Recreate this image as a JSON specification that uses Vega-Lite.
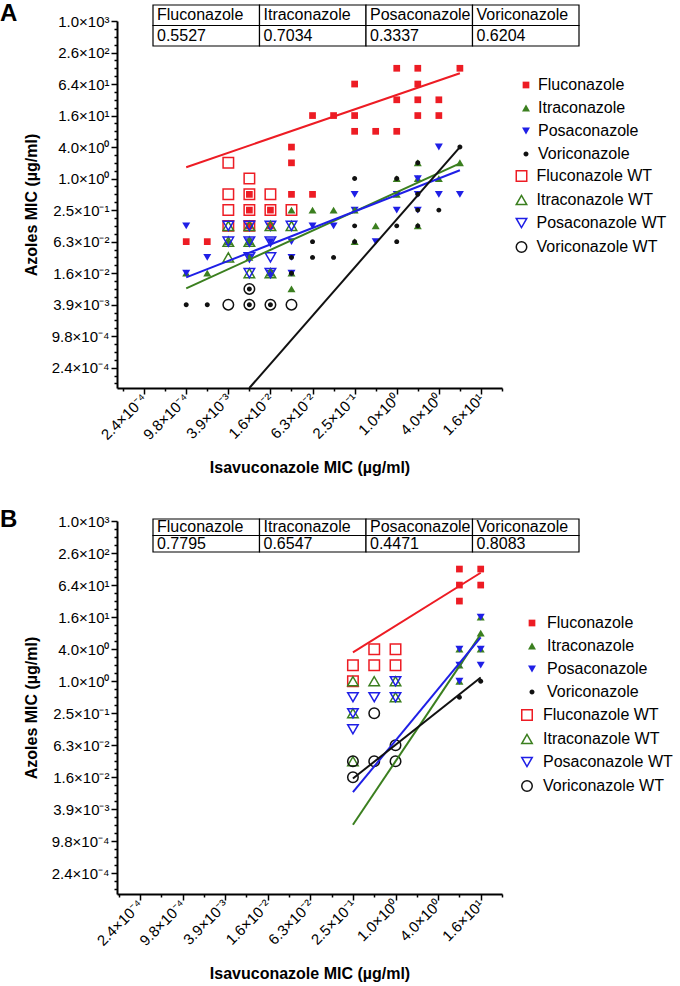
{
  "$schema": "https://vega.github.io/schema/vega-lite/v6.json",
  "padding": {"top": 2, "left": 0, "right": 0, "bottom": 0},
  "background": "white",
  "spacing": 32,
  "datasets": {
    "ptsA": [
      {"iso":0.0009765625,"mic":0.125,"series":"Posaconazole"},
      {"iso":0.0009765625,"mic":0.0625,"series":"Fluconazole"},
      {"iso":0.0009765625,"mic":0.015625,"series":"Itraconazole"},
      {"iso":0.0009765625,"mic":0.015625,"series":"Posaconazole"},
      {"iso":0.0009765625,"mic":0.00390625,"series":"Voriconazole"},
      {"iso":0.001953125,"mic":0.0625,"series":"Fluconazole"},
      {"iso":0.001953125,"mic":0.03125,"series":"Posaconazole"},
      {"iso":0.001953125,"mic":0.015625,"series":"Itraconazole"},
      {"iso":0.001953125,"mic":0.00390625,"series":"Voriconazole"},
      {"iso":0.00390625,"mic":2,"series":"Fluconazole WT"},
      {"iso":0.00390625,"mic":0.5,"series":"Fluconazole WT"},
      {"iso":0.00390625,"mic":0.25,"series":"Fluconazole WT"},
      {"iso":0.00390625,"mic":0.125,"series":"Fluconazole WT"},
      {"iso":0.00390625,"mic":0.125,"series":"Itraconazole WT"},
      {"iso":0.00390625,"mic":0.125,"series":"Posaconazole WT"},
      {"iso":0.00390625,"mic":0.0625,"series":"Itraconazole"},
      {"iso":0.00390625,"mic":0.0625,"series":"Itraconazole WT"},
      {"iso":0.00390625,"mic":0.0625,"series":"Posaconazole WT"},
      {"iso":0.00390625,"mic":0.03125,"series":"Itraconazole WT"},
      {"iso":0.00390625,"mic":0.00390625,"series":"Voriconazole WT"},
      {"iso":0.0078125,"mic":1,"series":"Fluconazole WT"},
      {"iso":0.0078125,"mic":0.5,"series":"Fluconazole WT"},
      {"iso":0.0078125,"mic":0.25,"series":"Fluconazole WT"},
      {"iso":0.0078125,"mic":0.125,"series":"Fluconazole WT"},
      {"iso":0.0078125,"mic":0.5,"series":"Fluconazole"},
      {"iso":0.0078125,"mic":0.25,"series":"Fluconazole"},
      {"iso":0.0078125,"mic":0.125,"series":"Fluconazole"},
      {"iso":0.0078125,"mic":0.125,"series":"Itraconazole WT"},
      {"iso":0.0078125,"mic":0.125,"series":"Posaconazole WT"},
      {"iso":0.0078125,"mic":0.0625,"series":"Posaconazole"},
      {"iso":0.0078125,"mic":0.0625,"series":"Itraconazole"},
      {"iso":0.0078125,"mic":0.0625,"series":"Itraconazole WT"},
      {"iso":0.0078125,"mic":0.0625,"series":"Posaconazole WT"},
      {"iso":0.0078125,"mic":0.03125,"series":"Posaconazole"},
      {"iso":0.0078125,"mic":0.03125,"series":"Itraconazole"},
      {"iso":0.0078125,"mic":0.03125,"series":"Posaconazole WT"},
      {"iso":0.0078125,"mic":0.015625,"series":"Itraconazole WT"},
      {"iso":0.0078125,"mic":0.015625,"series":"Posaconazole WT"},
      {"iso":0.0078125,"mic":0.0078125,"series":"Voriconazole"},
      {"iso":0.0078125,"mic":0.0078125,"series":"Voriconazole WT"},
      {"iso":0.0078125,"mic":0.00390625,"series":"Voriconazole"},
      {"iso":0.0078125,"mic":0.00390625,"series":"Voriconazole WT"},
      {"iso":0.015625,"mic":0.5,"series":"Fluconazole WT"},
      {"iso":0.015625,"mic":0.25,"series":"Fluconazole WT"},
      {"iso":0.015625,"mic":0.25,"series":"Fluconazole"},
      {"iso":0.015625,"mic":0.125,"series":"Fluconazole"},
      {"iso":0.015625,"mic":0.125,"series":"Posaconazole WT"},
      {"iso":0.015625,"mic":0.125,"series":"Itraconazole WT"},
      {"iso":0.015625,"mic":0.0625,"series":"Posaconazole"},
      {"iso":0.015625,"mic":0.0625,"series":"Posaconazole WT"},
      {"iso":0.015625,"mic":0.03125,"series":"Posaconazole WT"},
      {"iso":0.015625,"mic":0.015625,"series":"Itraconazole"},
      {"iso":0.015625,"mic":0.015625,"series":"Posaconazole"},
      {"iso":0.015625,"mic":0.015625,"series":"Itraconazole WT"},
      {"iso":0.015625,"mic":0.015625,"series":"Posaconazole WT"},
      {"iso":0.015625,"mic":0.00390625,"series":"Voriconazole"},
      {"iso":0.015625,"mic":0.00390625,"series":"Voriconazole WT"},
      {"iso":0.03125,"mic":4,"series":"Fluconazole"},
      {"iso":0.03125,"mic":2,"series":"Fluconazole"},
      {"iso":0.03125,"mic":0.5,"series":"Fluconazole"},
      {"iso":0.03125,"mic":0.25,"series":"Fluconazole WT"},
      {"iso":0.03125,"mic":0.25,"series":"Itraconazole"},
      {"iso":0.03125,"mic":0.125,"series":"Itraconazole WT"},
      {"iso":0.03125,"mic":0.125,"series":"Posaconazole WT"},
      {"iso":0.03125,"mic":0.0625,"series":"Posaconazole"},
      {"iso":0.03125,"mic":0.03125,"series":"Posaconazole"},
      {"iso":0.03125,"mic":0.03125,"series":"Voriconazole"},
      {"iso":0.03125,"mic":0.015625,"series":"Itraconazole"},
      {"iso":0.03125,"mic":0.015625,"series":"Posaconazole"},
      {"iso":0.03125,"mic":0.015625,"series":"Voriconazole"},
      {"iso":0.03125,"mic":0.0078125,"series":"Itraconazole"},
      {"iso":0.03125,"mic":0.00390625,"series":"Voriconazole WT"},
      {"iso":0.0625,"mic":16,"series":"Fluconazole"},
      {"iso":0.0625,"mic":0.5,"series":"Fluconazole"},
      {"iso":0.0625,"mic":0.25,"series":"Itraconazole"},
      {"iso":0.0625,"mic":0.125,"series":"Posaconazole"},
      {"iso":0.0625,"mic":0.0625,"series":"Voriconazole"},
      {"iso":0.0625,"mic":0.03125,"series":"Voriconazole"},
      {"iso":0.125,"mic":16,"series":"Fluconazole"},
      {"iso":0.125,"mic":0.25,"series":"Itraconazole"},
      {"iso":0.125,"mic":0.125,"series":"Posaconazole"},
      {"iso":0.125,"mic":0.03125,"series":"Voriconazole"},
      {"iso":0.25,"mic":64,"series":"Fluconazole"},
      {"iso":0.25,"mic":16,"series":"Fluconazole"},
      {"iso":0.25,"mic":8,"series":"Fluconazole"},
      {"iso":0.25,"mic":1,"series":"Voriconazole"},
      {"iso":0.25,"mic":0.5,"series":"Posaconazole"},
      {"iso":0.25,"mic":0.25,"series":"Posaconazole"},
      {"iso":0.25,"mic":0.25,"series":"Itraconazole"},
      {"iso":0.25,"mic":0.125,"series":"Voriconazole"},
      {"iso":0.25,"mic":0.0625,"series":"Itraconazole"},
      {"iso":0.25,"mic":0.0625,"series":"Voriconazole"},
      {"iso":0.5,"mic":8,"series":"Fluconazole"},
      {"iso":0.5,"mic":0.125,"series":"Itraconazole"},
      {"iso":0.5,"mic":0.0625,"series":"Posaconazole"},
      {"iso":1,"mic":128,"series":"Fluconazole"},
      {"iso":1,"mic":32,"series":"Fluconazole"},
      {"iso":1,"mic":8,"series":"Fluconazole"},
      {"iso":1,"mic":1,"series":"Itraconazole"},
      {"iso":1,"mic":1,"series":"Voriconazole"},
      {"iso":1,"mic":0.5,"series":"Posaconazole"},
      {"iso":1,"mic":0.5,"series":"Itraconazole"},
      {"iso":1,"mic":0.25,"series":"Posaconazole"},
      {"iso":1,"mic":0.125,"series":"Voriconazole"},
      {"iso":1,"mic":0.0625,"series":"Voriconazole"},
      {"iso":2,"mic":128,"series":"Fluconazole"},
      {"iso":2,"mic":64,"series":"Fluconazole"},
      {"iso":2,"mic":32,"series":"Fluconazole"},
      {"iso":2,"mic":16,"series":"Fluconazole"},
      {"iso":2,"mic":2,"series":"Itraconazole"},
      {"iso":2,"mic":2,"series":"Voriconazole"},
      {"iso":2,"mic":1,"series":"Itraconazole"},
      {"iso":2,"mic":1,"series":"Posaconazole"},
      {"iso":2,"mic":0.5,"series":"Posaconazole"},
      {"iso":2,"mic":0.5,"series":"Voriconazole"},
      {"iso":2,"mic":0.25,"series":"Posaconazole"},
      {"iso":2,"mic":0.25,"series":"Voriconazole"},
      {"iso":2,"mic":0.125,"series":"Itraconazole"},
      {"iso":2,"mic":0.125,"series":"Voriconazole"},
      {"iso":4,"mic":32,"series":"Fluconazole"},
      {"iso":4,"mic":16,"series":"Fluconazole"},
      {"iso":4,"mic":4,"series":"Posaconazole"},
      {"iso":4,"mic":1,"series":"Itraconazole"},
      {"iso":4,"mic":0.5,"series":"Posaconazole"},
      {"iso":4,"mic":0.25,"series":"Voriconazole"},
      {"iso":8,"mic":128,"series":"Fluconazole"},
      {"iso":8,"mic":4,"series":"Voriconazole"},
      {"iso":8,"mic":2,"series":"Itraconazole"},
      {"iso":8,"mic":0.5,"series":"Posaconazole"}
    ],
    "fitA": [
      {"iso":0.0009765625,"mic":1.65,"series":"Fluconazole"},
      {"iso":8,"mic":103,"series":"Fluconazole"},
      {"iso":0.0009765625,"mic":0.008,"series":"Itraconazole"},
      {"iso":8,"mic":1.96,"series":"Itraconazole"},
      {"iso":0.0009765625,"mic":0.013,"series":"Posaconazole"},
      {"iso":8,"mic":1.44,"series":"Posaconazole"},
      {"iso":0.0078,"mic":0.0001,"series":"Voriconazole"},
      {"iso":8,"mic":4,"series":"Voriconazole"}
    ],
    "ptsB": [
      {"iso":0.25,"mic":2,"series":"Fluconazole WT"},
      {"iso":0.25,"mic":1,"series":"Fluconazole WT"},
      {"iso":0.25,"mic":1,"series":"Itraconazole WT"},
      {"iso":0.25,"mic":0.25,"series":"Itraconazole WT"},
      {"iso":0.25,"mic":0.03125,"series":"Itraconazole WT"},
      {"iso":0.25,"mic":0.5,"series":"Posaconazole WT"},
      {"iso":0.25,"mic":0.25,"series":"Posaconazole WT"},
      {"iso":0.25,"mic":0.125,"series":"Posaconazole WT"},
      {"iso":0.25,"mic":0.03125,"series":"Voriconazole WT"},
      {"iso":0.25,"mic":0.015625,"series":"Voriconazole WT"},
      {"iso":0.5,"mic":4,"series":"Fluconazole WT"},
      {"iso":0.5,"mic":2,"series":"Fluconazole WT"},
      {"iso":0.5,"mic":1,"series":"Itraconazole WT"},
      {"iso":0.5,"mic":0.5,"series":"Posaconazole WT"},
      {"iso":0.5,"mic":0.25,"series":"Voriconazole WT"},
      {"iso":0.5,"mic":0.03125,"series":"Voriconazole WT"},
      {"iso":1,"mic":4,"series":"Fluconazole WT"},
      {"iso":1,"mic":2,"series":"Fluconazole WT"},
      {"iso":1,"mic":1,"series":"Itraconazole WT"},
      {"iso":1,"mic":0.5,"series":"Itraconazole WT"},
      {"iso":1,"mic":1,"series":"Posaconazole WT"},
      {"iso":1,"mic":0.5,"series":"Posaconazole WT"},
      {"iso":1,"mic":0.0625,"series":"Voriconazole WT"},
      {"iso":1,"mic":0.03125,"series":"Voriconazole WT"},
      {"iso":8,"mic":128,"series":"Fluconazole"},
      {"iso":8,"mic":64,"series":"Fluconazole"},
      {"iso":8,"mic":32,"series":"Fluconazole"},
      {"iso":8,"mic":4,"series":"Itraconazole"},
      {"iso":8,"mic":2,"series":"Itraconazole"},
      {"iso":8,"mic":1,"series":"Itraconazole"},
      {"iso":8,"mic":4,"series":"Posaconazole"},
      {"iso":8,"mic":2,"series":"Posaconazole"},
      {"iso":8,"mic":1,"series":"Posaconazole"},
      {"iso":8,"mic":0.5,"series":"Voriconazole"},
      {"iso":16,"mic":128,"series":"Fluconazole"},
      {"iso":16,"mic":64,"series":"Fluconazole"},
      {"iso":16,"mic":16,"series":"Itraconazole"},
      {"iso":16,"mic":8,"series":"Itraconazole"},
      {"iso":16,"mic":4,"series":"Itraconazole"},
      {"iso":16,"mic":16,"series":"Posaconazole"},
      {"iso":16,"mic":4,"series":"Posaconazole"},
      {"iso":16,"mic":2,"series":"Posaconazole"},
      {"iso":16,"mic":1,"series":"Voriconazole"}
    ],
    "fitB": [
      {"iso":0.25,"mic":3.48,"series":"Fluconazole"},
      {"iso":16,"mic":109,"series":"Fluconazole"},
      {"iso":0.25,"mic":0.002,"series":"Itraconazole"},
      {"iso":16,"mic":7.57,"series":"Itraconazole"},
      {"iso":0.25,"mic":0.0082,"series":"Posaconazole"},
      {"iso":16,"mic":6.63,"series":"Posaconazole"},
      {"iso":0.25,"mic":0.0148,"series":"Voriconazole"},
      {"iso":16,"mic":1.17,"series":"Voriconazole"}
    ],
    "tabA": [
      {"col":"Fluconazole","row":"head","txt":"Fluconazole"},
      {"col":"Itraconazole","row":"head","txt":"Itraconazole"},
      {"col":"Posaconazole","row":"head","txt":"Posaconazole"},
      {"col":"Voriconazole","row":"head","txt":"Voriconazole"},
      {"col":"Fluconazole","row":"val","txt":"0.5527"},
      {"col":"Itraconazole","row":"val","txt":"0.7034"},
      {"col":"Posaconazole","row":"val","txt":"0.3337"},
      {"col":"Voriconazole","row":"val","txt":"0.6204"}
    ],
    "tabB": [
      {"col":"Fluconazole","row":"head","txt":"Fluconazole"},
      {"col":"Itraconazole","row":"head","txt":"Itraconazole"},
      {"col":"Posaconazole","row":"head","txt":"Posaconazole"},
      {"col":"Voriconazole","row":"head","txt":"Voriconazole"},
      {"col":"Fluconazole","row":"val","txt":"0.7795"},
      {"col":"Itraconazole","row":"val","txt":"0.6547"},
      {"col":"Posaconazole","row":"val","txt":"0.4471"},
      {"col":"Voriconazole","row":"val","txt":"0.8083"}
    ]
  },
  "vconcat": [
    {
      "width": 385,
      "height": 367,
      "title": {"text": "A", "anchor": "start", "frame": "group", "dx": -117, "offset": -22, "fontSize": 24, "fontWeight": "bold", "color": "black"},
      "layer": [
        {
          "encoding": {
            "x": {"field": "iso", "type": "quantitative",
              "scale": {"type": "log", "domain": [0.0001, 32], "nice": false},
              "axis": {"title": "Isavuconazole MIC (µg/ml)",
                "values": [0.0001220703125, 0.000244140625, 0.00048828125, 0.0009765625, 0.001953125, 0.00390625, 0.0078125, 0.015625, 0.03125, 0.0625, 0.125, 0.25, 0.5, 1, 2, 4, 8, 16, 32],
                "labelExpr": "(abs(log(datum.value)/LN2/2 - round(log(datum.value)/LN2/2)) > 0.01) ? '' : (format(datum.value / pow(10, floor(log(datum.value)/LN10 + 1e-9)), '.1f') + '×10' + (floor(log(datum.value)/LN10 + 1e-9) < 0 ? '⁻' : '') + substring('⁰¹²³⁴⁵⁶⁷⁸⁹', abs(floor(log(datum.value)/LN10 + 1e-9)), abs(floor(log(datum.value)/LN10 + 1e-9)) + 1))",
                "labelAngle": -45, "labelAlign": "right", "labelBaseline": "middle",
                "tickSize": {"condition": {"test": "abs(log(datum.value)/LN2/2 - round(log(datum.value)/LN2/2)) < 0.01", "value": 6}, "value": 3},
                "titlePadding": 17}},
            "y": {"field": "mic", "type": "quantitative",
              "scale": {"type": "log", "domain": [0.0001, 1024], "nice": false},
              "axis": {"title": "Azoles MIC (µg/ml)",
                "values": [1024, 724.077, 512, 362.039, 256, 181.019, 128, 90.5097, 64, 45.2548, 32, 22.6274, 16, 11.3137, 8, 5.65685, 4, 2.82843, 2, 1.41421, 1, 0.707107, 0.5, 0.353553, 0.25, 0.176777, 0.125, 0.0883883, 0.0625, 0.0441942, 0.03125, 0.0220971, 0.015625, 0.0110485, 0.0078125, 0.00552427, 0.00390625, 0.00276214, 0.001953125, 0.00138107, 0.0009765625, 0.000690534, 0.00048828125, 0.000345267, 0.000244140625, 0.000172633, 0.0001220703125],
                "labelExpr": "(abs(log(datum.value)/LN2/2 - round(log(datum.value)/LN2/2)) > 0.01) ? '' : (format(datum.value / pow(10, floor(log(datum.value)/LN10 + 1e-9)), '.1f') + '×10' + (floor(log(datum.value)/LN10 + 1e-9) < 0 ? '⁻' : '') + substring('⁰¹²³⁴⁵⁶⁷⁸⁹', abs(floor(log(datum.value)/LN10 + 1e-9)), abs(floor(log(datum.value)/LN10 + 1e-9)) + 1))",
                "tickSize": {"condition": {"test": "abs(log(datum.value)/LN2/2 - round(log(datum.value)/LN2/2)) < 0.01", "value": 6}, "value": 3},
                "titlePadding": 12}}
          },
          "layer": [
            {
              "data": {"name": "ptsA"},
              "transform": [{"filter": "indexof(datum.series, 'WT') < 0"}],
              "mark": {"type": "point", "filled": true, "opacity": 1, "size": 64},
              "encoding": {
                "shape": {"field": "series", "type": "nominal",
                  "scale": {"domain": ["Fluconazole","Itraconazole","Posaconazole","Voriconazole"], "range": ["M-0.84,-0.84H0.84V0.84H-0.84Z","triangle-up","triangle-down","M-0.62,0A0.62,0.62 0 1,0 0.62,0A0.62,0.62 0 1,0 -0.62,0Z"]},
                  "legend": {"orient": "none", "legendX": 401, "legendY": 56, "title": null, "symbolSize": 64, "labelOffset": 4}},
                "color": {"field": "series", "type": "nominal",
                  "scale": {"domain": ["Fluconazole","Itraconazole","Posaconazole","Voriconazole"], "range": ["#ed1c24","#3b7f1f","#1f1fe6","#111111"]},
                  "legend": {"orient": "none", "legendX": 401, "legendY": 56, "title": null, "symbolSize": 64, "labelOffset": 4}}
              }
            },
            {
              "data": {"name": "ptsA"},
              "transform": [{"filter": "indexof(datum.series, 'WT') >= 0"}],
              "mark": {"type": "point", "filled": false, "opacity": 1, "size": 110, "strokeWidth": 1.5},
              "encoding": {
                "shape": {"field": "series", "type": "nominal",
                  "scale": {"domain": ["Fluconazole WT","Itraconazole WT","Posaconazole WT","Voriconazole WT"], "range": ["square","triangle-up","triangle-down","circle"]},
                  "legend": {"orient": "none", "legendX": 396.5, "legendY": 147, "title": null, "symbolSize": 110, "symbolStrokeWidth": 1.5, "labelOffset": 7}},
                "color": {"field": "series", "type": "nominal",
                  "scale": {"domain": ["Fluconazole WT","Itraconazole WT","Posaconazole WT","Voriconazole WT"], "range": ["#ed1c24","#3b7f1f","#1f1fe6","#111111"]},
                  "legend": {"orient": "none", "legendX": 396.5, "legendY": 147, "title": null, "symbolSize": 110, "symbolStrokeWidth": 1.5, "labelOffset": 7}}
              }
            },
            {
              "data": {"name": "fitA"},
              "mark": {"type": "line", "strokeWidth": 2},
              "encoding": {
                "detail": {"field": "series", "type": "nominal"},
                "stroke": {"condition": [{"test": "datum.series === 'Fluconazole'", "value": "#ed1c24"}, {"test": "datum.series === 'Itraconazole'", "value": "#3b7f1f"}, {"test": "datum.series === 'Posaconazole'", "value": "#1f1fe6"}], "value": "#111111"}
              }
            }
          ],
          "resolve": {"scale": {"shape": "independent", "color": "independent"}, "legend": {"shape": "independent", "color": "independent"}}
        },
        {
          "data": {"name": "tabA"},
          "encoding": {
            "x": {"field": "col", "type": "nominal", "sort": ["Fluconazole","Itraconazole","Posaconazole","Voriconazole"], "scale": {"range": [36, 462], "paddingInner": 0, "paddingOuter": 0}, "axis": null},
            "y": {"field": "row", "type": "nominal", "sort": ["head","val"], "scale": {"range": [-16, 25], "paddingInner": 0, "paddingOuter": 0}, "axis": null}
          },
          "layer": [
            {"mark": {"type": "rect", "fill": "white", "stroke": "black", "strokeWidth": 1.2}},
            {"mark": {"type": "text", "align": "left", "baseline": "middle", "dx": 4, "fontSize": 16, "color": "black"},
             "encoding": {
               "x": {"field": "col", "type": "nominal", "bandPosition": 0, "sort": ["Fluconazole","Itraconazole","Posaconazole","Voriconazole"], "scale": {"range": [36, 462], "paddingInner": 0, "paddingOuter": 0}, "axis": null},
               "text": {"field": "txt"}}}
          ]
        }
      ],
      "resolve": {"scale": {"x": "independent", "y": "independent"}, "axis": {"x": "independent", "y": "independent"}}
    },
    {
      "width": 385,
      "height": 373,
      "title": {"text": "B", "anchor": "start", "frame": "group", "dx": -117, "offset": -18, "fontSize": 24, "fontWeight": "bold", "color": "black"},
      "layer": [
        {
          "encoding": {
            "x": {"field": "iso", "type": "quantitative",
              "scale": {"type": "log", "domain": [0.0001155, 32], "nice": false},
              "axis": {"title": "Isavuconazole MIC (µg/ml)",
                "values": [0.0001220703125, 0.000244140625, 0.00048828125, 0.0009765625, 0.001953125, 0.00390625, 0.0078125, 0.015625, 0.03125, 0.0625, 0.125, 0.25, 0.5, 1, 2, 4, 8, 16, 32],
                "labelExpr": "(abs(log(datum.value)/LN2/2 - round(log(datum.value)/LN2/2)) > 0.01) ? '' : (format(datum.value / pow(10, floor(log(datum.value)/LN10 + 1e-9)), '.1f') + '×10' + (floor(log(datum.value)/LN10 + 1e-9) < 0 ? '⁻' : '') + substring('⁰¹²³⁴⁵⁶⁷⁸⁹', abs(floor(log(datum.value)/LN10 + 1e-9)), abs(floor(log(datum.value)/LN10 + 1e-9)) + 1))",
                "labelAngle": -45, "labelAlign": "right", "labelBaseline": "middle",
                "tickSize": {"condition": {"test": "abs(log(datum.value)/LN2/2 - round(log(datum.value)/LN2/2)) < 0.01", "value": 6}, "value": 3},
                "titlePadding": 17}},
            "y": {"field": "mic", "type": "quantitative",
              "scale": {"type": "log", "domain": [0.0001, 1024], "nice": false},
              "axis": {"title": "Azoles MIC (µg/ml)",
                "values": [1024, 724.077, 512, 362.039, 256, 181.019, 128, 90.5097, 64, 45.2548, 32, 22.6274, 16, 11.3137, 8, 5.65685, 4, 2.82843, 2, 1.41421, 1, 0.707107, 0.5, 0.353553, 0.25, 0.176777, 0.125, 0.0883883, 0.0625, 0.0441942, 0.03125, 0.0220971, 0.015625, 0.0110485, 0.0078125, 0.00552427, 0.00390625, 0.00276214, 0.001953125, 0.00138107, 0.0009765625, 0.000690534, 0.00048828125, 0.000345267, 0.000244140625, 0.000172633, 0.0001220703125],
                "labelExpr": "(abs(log(datum.value)/LN2/2 - round(log(datum.value)/LN2/2)) > 0.01) ? '' : (format(datum.value / pow(10, floor(log(datum.value)/LN10 + 1e-9)), '.1f') + '×10' + (floor(log(datum.value)/LN10 + 1e-9) < 0 ? '⁻' : '') + substring('⁰¹²³⁴⁵⁶⁷⁸⁹', abs(floor(log(datum.value)/LN10 + 1e-9)), abs(floor(log(datum.value)/LN10 + 1e-9)) + 1))",
                "tickSize": {"condition": {"test": "abs(log(datum.value)/LN2/2 - round(log(datum.value)/LN2/2)) < 0.01", "value": 6}, "value": 3},
                "titlePadding": 12}}
          },
          "layer": [
            {
              "data": {"name": "ptsB"},
              "transform": [{"filter": "indexof(datum.series, 'WT') < 0"}],
              "mark": {"type": "point", "filled": true, "opacity": 1, "size": 64},
              "encoding": {
                "shape": {"field": "series", "type": "nominal",
                  "scale": {"domain": ["Fluconazole","Itraconazole","Posaconazole","Voriconazole"], "range": ["M-0.84,-0.84H0.84V0.84H-0.84Z","triangle-up","triangle-down","M-0.62,0A0.62,0.62 0 1,0 0.62,0A0.62,0.62 0 1,0 -0.62,0Z"]},
                  "legend": {"orient": "none", "legendX": 407, "legendY": 94, "title": null, "symbolSize": 64, "labelOffset": 7}},
                "color": {"field": "series", "type": "nominal",
                  "scale": {"domain": ["Fluconazole","Itraconazole","Posaconazole","Voriconazole"], "range": ["#ed1c24","#3b7f1f","#1f1fe6","#111111"]},
                  "legend": {"orient": "none", "legendX": 407, "legendY": 94, "title": null, "symbolSize": 64, "labelOffset": 7}}
              }
            },
            {
              "data": {"name": "ptsB"},
              "transform": [{"filter": "indexof(datum.series, 'WT') >= 0"}],
              "mark": {"type": "point", "filled": false, "opacity": 1, "size": 110, "strokeWidth": 1.5},
              "encoding": {
                "shape": {"field": "series", "type": "nominal",
                  "scale": {"domain": ["Fluconazole WT","Itraconazole WT","Posaconazole WT","Voriconazole WT"], "range": ["square","triangle-up","triangle-down","circle"]},
                  "legend": {"orient": "none", "legendX": 402, "legendY": 186, "title": null, "symbolSize": 110, "symbolStrokeWidth": 1.5, "labelOffset": 8}},
                "color": {"field": "series", "type": "nominal",
                  "scale": {"domain": ["Fluconazole WT","Itraconazole WT","Posaconazole WT","Voriconazole WT"], "range": ["#ed1c24","#3b7f1f","#1f1fe6","#111111"]},
                  "legend": {"orient": "none", "legendX": 402, "legendY": 186, "title": null, "symbolSize": 110, "symbolStrokeWidth": 1.5, "labelOffset": 8}}
              }
            },
            {
              "data": {"name": "fitB"},
              "mark": {"type": "line", "strokeWidth": 2},
              "encoding": {
                "detail": {"field": "series", "type": "nominal"},
                "stroke": {"condition": [{"test": "datum.series === 'Fluconazole'", "value": "#ed1c24"}, {"test": "datum.series === 'Itraconazole'", "value": "#3b7f1f"}, {"test": "datum.series === 'Posaconazole'", "value": "#1f1fe6"}], "value": "#111111"}
              }
            }
          ],
          "resolve": {"scale": {"shape": "independent", "color": "independent"}, "legend": {"shape": "independent", "color": "independent"}}
        },
        {
          "data": {"name": "tabB"},
          "encoding": {
            "x": {"field": "col", "type": "nominal", "sort": ["Fluconazole","Itraconazole","Posaconazole","Voriconazole"], "scale": {"range": [36, 462], "paddingInner": 0, "paddingOuter": 0}, "axis": null},
            "y": {"field": "row", "type": "nominal", "sort": ["head","val"], "scale": {"range": [-2, 31], "paddingInner": 0, "paddingOuter": 0}, "axis": null}
          },
          "layer": [
            {"mark": {"type": "rect", "fill": "white", "stroke": "black", "strokeWidth": 1.2}},
            {"mark": {"type": "text", "align": "left", "baseline": "middle", "dx": 4, "fontSize": 16, "color": "black"},
             "encoding": {
               "x": {"field": "col", "type": "nominal", "bandPosition": 0, "sort": ["Fluconazole","Itraconazole","Posaconazole","Voriconazole"], "scale": {"range": [36, 462], "paddingInner": 0, "paddingOuter": 0}, "axis": null},
               "text": {"field": "txt"}}}
          ]
        }
      ],
      "resolve": {"scale": {"x": "independent", "y": "independent"}, "axis": {"x": "independent", "y": "independent"}}
    }
  ],
  "resolve": {
    "scale": {"x": "independent", "y": "independent", "shape": "independent", "color": "independent"},
    "legend": {"shape": "independent", "color": "independent"},
    "axis": {"x": "independent", "y": "independent"}
  },
  "config": {
    "font": "Liberation Sans",
    "view": {"stroke": null},
    "axis": {"grid": false, "domainColor": "black", "domainWidth": 2, "tickColor": "black", "tickWidth": 1.5, "labelFont": "Liberation Sans", "labelFontSize": 15, "labelColor": "black", "labelPadding": 2, "labelOverlap": false, "labelFlush": false, "titleFont": "Liberation Sans", "titleFontSize": 16, "titleFontWeight": "bold", "titleColor": "black"},
    "legend": {"labelFont": "Liberation Sans", "labelFontSize": 16, "labelColor": "black", "rowPadding": 7, "padding": 0},
    "title": {"font": "Liberation Sans", "color": "black"}
  }
}
